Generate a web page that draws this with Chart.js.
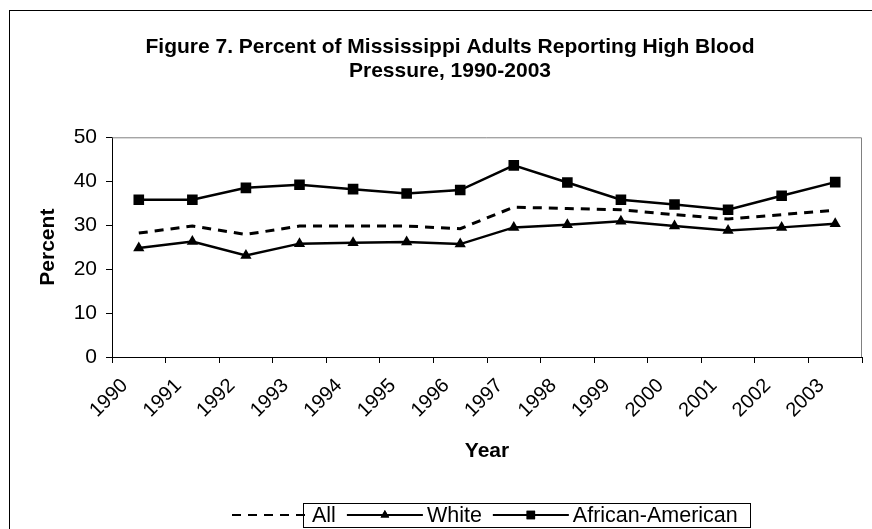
<!DOCTYPE html>
<html>
<head>
<meta charset="utf-8">
<script src="https://cdn.jsdelivr.net/npm/chart.js@4.4.1/dist/chart.umd.min.js"></script>
<style>
  html, body { margin: 0; padding: 0; background: #fff; }
  #wrap { position: relative; width: 872px; height: 529px; overflow: hidden; }
  #frame { position: absolute; left: 9px; top: 10px; width: 900px; height: 600px;
           border-left: 1px solid #000; border-top: 1px solid #000; }
  canvas { position: absolute; left: 0; top: 0; }
</style>
</head>
<body>
<div id="wrap">
  <div id="frame"></div>
  <canvas id="bpChart" width="872" height="529"></canvas>
</div>
<script>
// Data
const years = ['1990', '1991', '1992', '1993', '1994', '1995', '1996',
               '1997', '1998', '1999', '2000', '2001', '2002', '2003'];
const allValues = [28.2, 29.8, 27.9, 29.8, 29.8, 29.8, 29.2, 34.1, 33.8, 33.5, 32.4, 31.4, 32.4, 33.4];
const whiteValues = [24.8, 26.3, 23.1, 25.8, 26.0, 26.2, 25.7, 29.5, 30.1, 30.9, 29.8, 28.8, 29.5, 30.3];
const africanAmericanValues = [35.8, 35.8, 38.5, 39.2, 38.2, 37.2, 38.0, 43.6, 39.7, 35.8, 34.7, 33.5, 36.7, 39.8];
const seriesNames = ['All', 'White', 'African-American'];
const yTicks = [0, 10, 20, 30, 40, 50];

const FONT = "'Liberation Sans', Arial, sans-serif";

// Gray border on top/right of the plot area (Excel style)
const plotBorderPlugin = {
    id: 'plotBorder',
    beforeDatasetsDraw(chart) {
        const { ctx, chartArea } = chart;
        ctx.save();
        ctx.strokeStyle = '#808080';
        ctx.lineWidth = 1;
        ctx.beginPath();
        ctx.moveTo(chartArea.left, chartArea.top + 0.5);
        ctx.lineTo(chartArea.right - 0.5, chartArea.top + 0.5);
        ctx.lineTo(chartArea.right - 0.5, chartArea.bottom);
        ctx.stroke();
        ctx.restore();
    }
};

// Boxed legend with line + marker samples
const boxLegendPlugin = {
    id: 'boxLegend',
    afterDraw(chart) {
        const { ctx } = chart;
        const sets = chart.data.datasets;
        const boxLeft = 303, boxRight = 750, boxTop = 503, boxBottom = 527;
        const sampleLen = 76, midY = (boxTop + boxBottom) / 2;
        ctx.save();
        ctx.font = '21.5px ' + FONT;
        ctx.textBaseline = 'middle';
        ctx.fillStyle = '#000';
        let x = 312 - 4 - sampleLen;
        sets.forEach((ds) => {
            ctx.strokeStyle = '#000';
            ctx.lineWidth = 2;
            ctx.setLineDash(ds.borderDash || []);
            ctx.beginPath();
            ctx.moveTo(x, midY);
            ctx.lineTo(x + sampleLen, midY);
            ctx.stroke();
            ctx.setLineDash([]);
            if (ds.pointRadius > 0) {
                Chart.helpers.drawPoint(ctx, {
                    pointStyle: ds.pointStyle,
                    radius: ds.pointRadius - 1.5,
                    borderWidth: 0
                }, x + sampleLen / 2, midY);
                ctx.fill();
            }
            x += sampleLen + 4;
            ctx.fillText(ds.label, x, midY + 1);
            x += ctx.measureText(ds.label).width + 11;
        });
        ctx.lineWidth = 1;
        ctx.strokeStyle = '#000';
        ctx.strokeRect(boxLeft + 0.5, boxTop + 0.5, boxRight - boxLeft, boxBottom - boxTop);
        ctx.restore();
    }
};

const chart = new Chart(document.getElementById('bpChart'), {
    type: 'line',
    data: {
        labels: years,
        datasets: [
            {
                label: seriesNames[0],
                data: allValues,
                borderColor: '#000',
                borderWidth: 3,
                borderDash: [9, 7],
                pointRadius: 0,
                tension: 0
            },
            {
                label: seriesNames[1],
                data: whiteValues,
                borderColor: '#000',
                backgroundColor: '#000',
                borderWidth: 2.5,
                pointStyle: 'triangle',
                pointRadius: 6.5,
                pointBorderWidth: 0,
                tension: 0
            },
            {
                label: seriesNames[2],
                data: africanAmericanValues,
                borderColor: '#000',
                backgroundColor: '#000',
                borderWidth: 2.5,
                pointStyle: 'rect',
                pointRadius: 7.5,
                pointBorderWidth: 0,
                tension: 0
            }
        ]
    },
    options: {
        responsive: false,
        animation: false,
        layout: { padding: { left: 38, right: 10, top: 0, bottom: 60 } },
        plugins: {
            legend: { display: false },
            tooltip: { enabled: false },
            title: {
                display: true,
                text: ['Figure 7. Percent of Mississippi Adults Reporting High Blood', 'Pressure, 1990-2003'],
                color: '#000',
                font: { family: FONT, size: 21, weight: 'bold', lineHeight: 1.15 },
                padding: { top: 35, bottom: 54 }
            }
        },
        scales: {
            x: {
                offset: true,
                afterFit(scale) { scale.height = 112; },
                grid: { offset: true, drawOnChartArea: false, tickLength: 6, color: '#000' },
                border: { color: '#000', width: 1 },
                ticks: {
                    color: '#000',
                    font: { family: FONT, size: 20 },
                    minRotation: 45,
                    maxRotation: 45,
                    autoSkip: false,
                    labelOffset: -14,
                    padding: 11
                },
                title: {
                    display: true,
                    text: 'Year',
                    color: '#000',
                    font: { family: FONT, size: 21, weight: 'bold' },
                    padding: { top: 0, bottom: 5 }
                }
            },
            y: {
                min: 0,
                max: 50,
                afterBuildTicks(scale) {
                    scale.ticks = yTicks.map(v => ({ value: v }));
                },
                afterFit(scale) { scale.width = 74; },
                grid: { drawOnChartArea: false, tickLength: 6, color: '#000' },
                border: { color: '#000', width: 1 },
                ticks: { color: '#000', font: { family: FONT, size: 21 }, padding: 9 },
                title: {
                    display: true,
                    text: 'Percent',
                    color: '#000',
                    font: { family: FONT, size: 21, weight: 'bold', lineHeight: 1 },
                    padding: 0
                }
            }
        }
    },
    plugins: [plotBorderPlugin, boxLegendPlugin]
});
</script>
</body>
</html>
